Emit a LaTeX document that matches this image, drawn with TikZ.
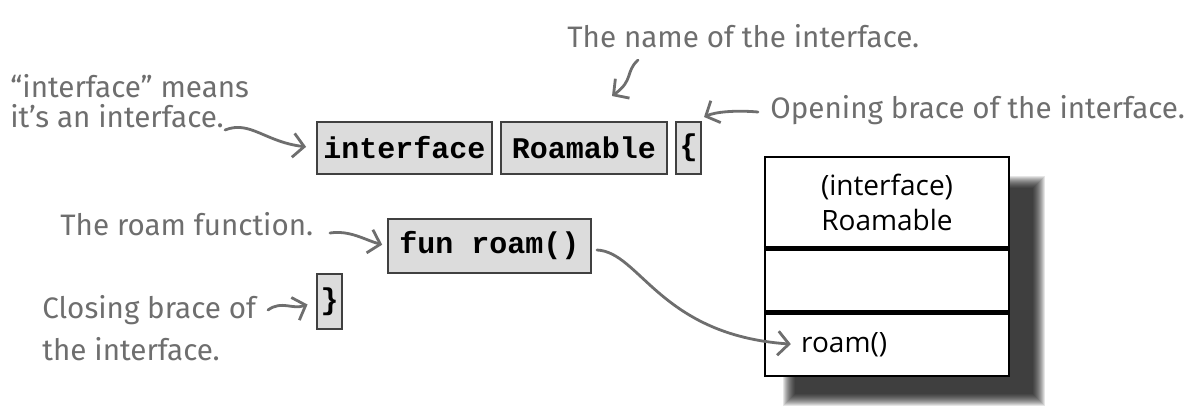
\documentclass[tikz,border=0pt]{standalone}
\usepackage{fontspec}
\setmainfont{Open Sans}
\newfontfamily\handfont{Fira Sans}
\newfontfamily\codefont{Liberation Mono}
\usetikzlibrary{arrows.meta,positioning,calc}
\definecolor{codegray}{HTML}{DCDCDC}
\definecolor{pengray}{HTML}{6E6E6E}
\tikzset{
  codebox/.style={draw=black!75,line width=1pt,fill=codegray,inner sep=0pt,
    minimum height=26pt,font=\codefont\bfseries\fontsize{15}{15}\selectfont},
  note/.style={font=\handfont\fontsize{14.8}{15}\selectfont,text=pengray,
    inner sep=0pt,align=left},
  pen/.style={draw=pengray,line width=1.4pt,line cap=round,
    -{Straight Barb[length=5.5pt,width=12pt]}},
  umlpart/.style={draw=black,line width=1.2pt,fill=white,minimum width=122pt,
    inner sep=0pt,font=\fontsize{14}{17.5}\selectfont},
}
\begin{document}
\begin{tikzpicture}[x=0.5pt,y=-0.5pt]
\useasboundingbox (0,0) rectangle (1203,407);
% Code: interface declaration
\node[codebox,minimum width=87.5pt] (kw) at (404.5,148) {interface};
\node[codebox,minimum width=83pt,right=3.5pt of kw] (name) {Roamable};
\node[codebox,minimum width=12.5pt,right=3.5pt of name] (obrace) {\{};
\node[codebox,minimum width=101.5pt,minimum height=27pt] (fun) at (489.5,246) {fun roam()};
\node[codebox,minimum width=12.5pt,minimum height=27.5pt] (cbrace) at (329.5,301.5) {\}};
% UML box with its shadow
\foreach \i in {0,...,12}
  \fill[black,opacity=0.1] (783+\i,176+\i) rectangle (1045-\i,406-\i);
\node[umlpart,minimum height=45pt,align=center] (uhead) at (887,202) {(interface)\\Roamable};
\node[umlpart,minimum height=31pt,below=0pt of uhead] (uattr) {};
\node[umlpart,minimum height=31pt,below=0pt of uattr] (uops) {};
\draw[line width=2.6pt] (uhead.south west) -- (uhead.south east);
\node[anchor=west,inner sep=0pt,font=\fontsize{14}{17.5}\selectfont] (roamtxt)
  at ([xshift=18.5pt]uops.west) {roam()};
% Handwritten notes
\node[note,anchor=north west] (kwnote) at (10,74) {“interface” means\\it’s an interface.};
\node[note,anchor=base west] (namenote) at (567,47) {The name of the interface.};
\node[note,anchor=base west] (opennote) at (770,118) {Opening brace of the interface.};
\node[note,anchor=base west] (funnote) at (60,235) {The roam function.};
\node[note,anchor=north west,font=\handfont\fontsize{14.8}{21}\selectfont] (closenote)
  at (42,295) {Closing brace of\\the interface.};
\coordinate (kwtail) at (225,130);
\coordinate (nametail) at (638,60);
\coordinate (opentail) at (758,112);
\coordinate (funtail) at (330,233);
\coordinate (closetail) at (268,310);
\draw[pen,shorten >=5pt] (kwtail) .. controls (250,120) and (265,142) .. (kw.west);
\draw[pen] (nametail) .. controls (625,72) and (634,80) .. ($(name.north)+(28,-25)$);
\draw[pen] (opentail) .. controls (735,110) and (715,112) .. ($(obrace.north east)+(2,-4)$);
\draw[pen,shorten >=2.5pt] (funtail) .. controls (350,230) and (365,240) .. (fun.west);
\draw[pen,shorten >=4.5pt] (closetail) .. controls (282,300) and (292,310) .. (cbrace.west);
\draw[pen,shorten >=5pt] ([shift={(5,4)}]fun.east) .. controls (640,252) and (660,335) .. (roamtxt.west);
\end{tikzpicture}
\end{document}
